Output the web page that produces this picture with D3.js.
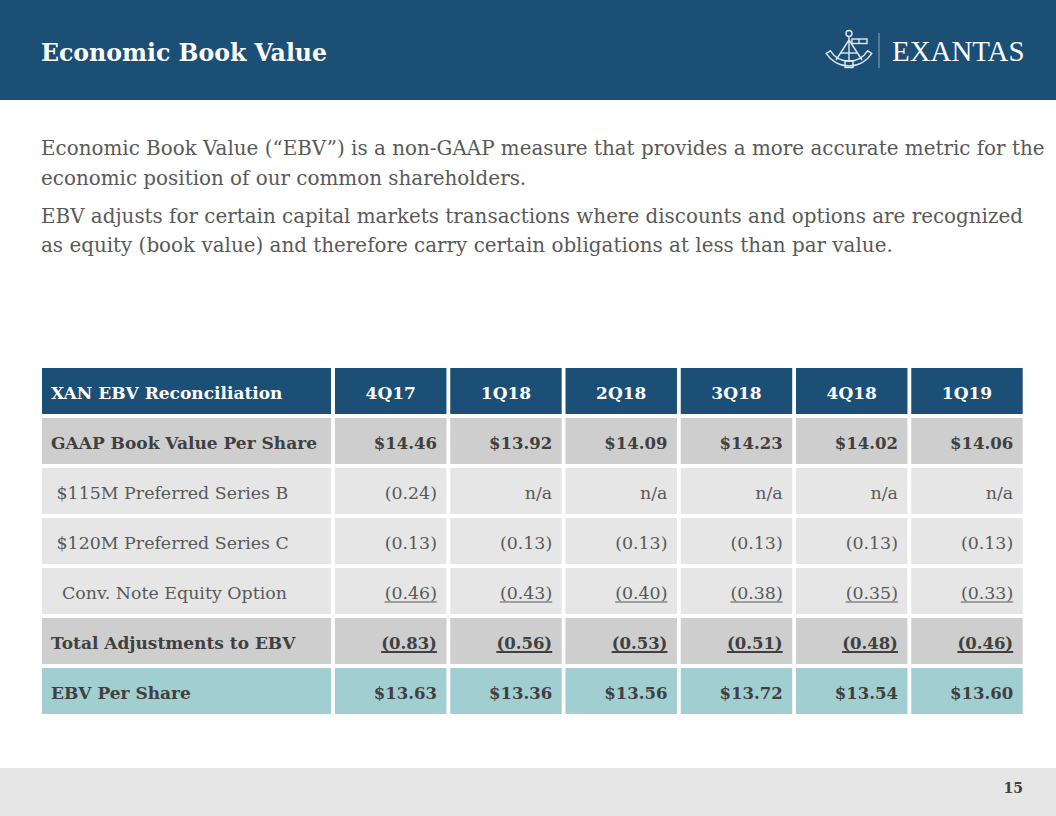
<!DOCTYPE html>
<html><head><meta charset="utf-8">
<script src="https://cdn.jsdelivr.net/npm/d3@7"></script>
<style>body{margin:0;background:#fff;} svg{display:block;}</style>
</head><body><svg id="c" width="1056" height="816"></svg>
<script>
// ---------- data ----------
const slideTitle = "Economic Book Value";
const brandName = "EXANTAS";
const paragraphLines = [
  ["Economic Book Value (“EBV”) is a non-GAAP measure that provides a more accurate metric for the",
   "economic position of our common shareholders."],
  ["EBV adjusts for certain capital markets transactions where discounts and options are recognized",
   "as equity (book value) and therefore carry certain obligations at less than par value."]
];
const tableTitle = "XAN EBV Reconciliation";
const quarters = ["4Q17", "1Q18", "2Q18", "3Q18", "4Q18", "1Q19"];
const rowLabels = ["GAAP Book Value Per Share", " $115M Preferred Series B", " $120M Preferred Series C",
                   "  Conv. Note Equity Option", "Total Adjustments to EBV", "EBV Per Share"];
const gaapBookValue   = [14.46, 13.92, 14.09, 14.23, 14.02, 14.06];
const prefSeriesB     = [-0.24, null, null, null, null, null];
const prefSeriesC     = [-0.13, -0.13, -0.13, -0.13, -0.13, -0.13];
const convNoteOption  = [-0.46, -0.43, -0.40, -0.38, -0.35, -0.33];
const totalAdjustment = [-0.83, -0.56, -0.53, -0.51, -0.48, -0.46];
const ebvPerShare     = [13.63, 13.36, 13.56, 13.72, 13.54, 13.60];
const pageNumber = "15";

// ---------- styles ----------
const C = {
  navy: "#1b4f76", gray: "#cececf", light: "#e6e6e6", teal: "#a1ced0",
  dark: "#404040", mid: "#595959", footer: "#e6e6e6"
};
const SERIF = "'DejaVu Serif', serif";
const rowKinds = ["gaap", "adj", "adj", "adjU", "total", "ebv"];
const rowValues = [gaapBookValue, prefSeriesB, prefSeriesC, convNoteOption, totalAdjustment, ebvPerShare];
const kindStyle = {
  gaap:  {fill: C.gray,  bold: true,  color: C.dark, money: true,  ul: 0},
  adj:   {fill: C.light, bold: false, color: C.mid,  money: false, ul: 0},
  adjU:  {fill: C.light, bold: false, color: C.mid,  money: false, ul: 1},
  total: {fill: C.gray,  bold: true,  color: C.dark, money: false, ul: 2},
  ebv:   {fill: C.teal,  bold: true,  color: C.dark, money: true,  ul: 0}
};
const fmt = (v, money) => v == null ? "n/a" : money ? "$" + d3.format(".2f")(v)
  : (v < 0 ? "(" + d3.format(".2f")(-v) + ")" : d3.format(".2f")(v));

const svg = d3.select("#c");

// header band
svg.append("rect").attr("x", 0).attr("y", 0).attr("width", 1056).attr("height", 100).attr("fill", C.navy);
svg.append("text").attr("x", 41).attr("y", 61).attr("fill", "#fff")
  .attr("font-family", SERIF).attr("font-weight", "bold").attr("font-size", 23.6).text(slideTitle);

// logo
const logo = svg.append("g").attr("fill", "none").attr("stroke", "#e2e9f0").attr("stroke-width", 1.4);
logo.append("circle").attr("cx", 849).attr("cy", 33.5).attr("r", 3);
logo.append("line").attr("x1", 849).attr("y1", 36.5).attr("x2", 849).attr("y2", 62);
logo.append("rect").attr("x", 852).attr("y", 39).attr("width", 15).attr("height", 4.5);
logo.append("line").attr("x1", 859).attr("y1", 39).attr("x2", 859).attr("y2", 43.5);
logo.append("line").attr("x1", 849).attr("y1", 40).attr("x2", 836).attr("y2", 60);
logo.append("line").attr("x1", 849).attr("y1", 40).attr("x2", 862).attr("y2", 60);
logo.append("line").attr("x1", 841).attr("y1", 53).attr("x2", 857).attr("y2", 53);
const arcGen = d3.arc().startAngle(Math.PI * 0.68).endAngle(Math.PI * 1.32);
logo.append("path").attr("transform", "translate(849,39)")
  .attr("d", arcGen.innerRadius(22).outerRadius(27)());
logo.append("rect").attr("x", 845).attr("y", 61).attr("width", 8).attr("height", 6.5);
svg.append("line").attr("x1", 879).attr("y1", 33).attr("x2", 879).attr("y2", 68)
  .attr("stroke", "#8ea6bc").attr("stroke-width", 1);
svg.append("text").attr("x", 892).attr("y", 61).attr("fill", "#fff")
  .attr("font-family", "'Liberation Serif', serif").attr("font-size", 28.9).text(brandName);

// paragraphs
const lineBaselines = [[155, 185], [223, 252]];
paragraphLines.forEach((p, i) => p.forEach((ln, j) => {
  svg.append("text").attr("x", 41).attr("y", lineBaselines[i][j]).attr("fill", C.mid)
    .attr("font-family", SERIF).attr("font-size", 19.9).text(ln);
}));

// table scales
const rowKeys = ["header"].concat(rowLabels);
const y = d3.scaleBand().domain(rowKeys).range([368, 714]).paddingInner(0.08);
const x = d3.scaleBand().domain(quarters).range([335, 1022.7]).paddingInner(0.033);
const firstCol = {x0: 42, x1: 331};
const base = k => y(k) + y.bandwidth() / 2 + 7.5;
const BOLD_SZ = 17, REG_SZ = 17.4;

// header row
svg.append("rect").attr("x", firstCol.x0).attr("y", y("header")).attr("width", firstCol.x1 - firstCol.x0)
  .attr("height", y.bandwidth()).attr("fill", C.navy);
svg.append("text").attr("x", 51).attr("y", base("header")).attr("fill", "#fff")
  .attr("font-family", SERIF).attr("font-weight", "bold").attr("font-size", BOLD_SZ).text(tableTitle);
svg.selectAll("rect.hq").data(quarters).join("rect").attr("class", "hq")
  .attr("x", d => x(d)).attr("y", y("header")).attr("width", x.bandwidth()).attr("height", y.bandwidth())
  .attr("fill", C.navy);
svg.selectAll("text.hq").data(quarters).join("text").attr("class", "hq")
  .attr("x", d => x(d) + x.bandwidth() / 2).attr("y", base("header")).attr("text-anchor", "middle")
  .attr("fill", "#fff").attr("font-family", SERIF).attr("font-weight", "bold").attr("font-size", BOLD_SZ).text(d => d);

// body rows
rowLabels.forEach((lab, i) => {
  const st = kindStyle[rowKinds[i]];
  const g = svg.append("g");
  g.append("rect").attr("x", firstCol.x0).attr("y", y(lab)).attr("width", firstCol.x1 - firstCol.x0)
    .attr("height", y.bandwidth()).attr("fill", st.fill);
  g.append("text").attr("x", 51).attr("y", base(lab)).attr("fill", st.color)
    .attr("font-family", SERIF).attr("font-weight", st.bold ? "bold" : "normal")
    .attr("font-size", st.bold ? BOLD_SZ : REG_SZ).style("white-space", "pre").text(lab);
  const cells = quarters.map((q, k) => ({q, v: rowValues[i][k]}));
  g.selectAll("rect.c").data(cells).join("rect").attr("class", "c")
    .attr("x", d => x(d.q)).attr("y", y(lab)).attr("width", x.bandwidth()).attr("height", y.bandwidth())
    .attr("fill", st.fill);
  const t = g.selectAll("text.c").data(cells).join("text").attr("class", "c")
    .attr("x", d => x(d.q) + x.bandwidth() - 9.5).attr("y", base(lab)).attr("text-anchor", "end")
    .attr("fill", st.color).attr("font-family", SERIF).attr("font-weight", st.bold ? "bold" : "normal")
    .attr("font-size", st.bold ? 16.5 : REG_SZ).text(d => fmt(d.v, st.money));
  if (st.ul) {
    t.each(function (d) {
      const w = this.getComputedTextLength();
      const xe = x(d.q) + x.bandwidth() - 9.5;
      g.append("line").attr("x1", xe - w).attr("x2", xe)
        .attr("y1", base(lab) + 3.5).attr("y2", base(lab) + 3.5)
        .attr("stroke", st.color).attr("stroke-width", st.ul === 2 ? 1.8 : 1);
    });
  }
});

// footer
svg.append("rect").attr("x", 0).attr("y", 768).attr("width", 1056).attr("height", 48).attr("fill", C.footer);
svg.append("text").attr("x", 1023).attr("y", 793).attr("text-anchor", "end").attr("fill", C.dark)
  .attr("font-family", SERIF).attr("font-weight", "bold").attr("font-size", 14).text(pageNumber);
</script></body></html>
